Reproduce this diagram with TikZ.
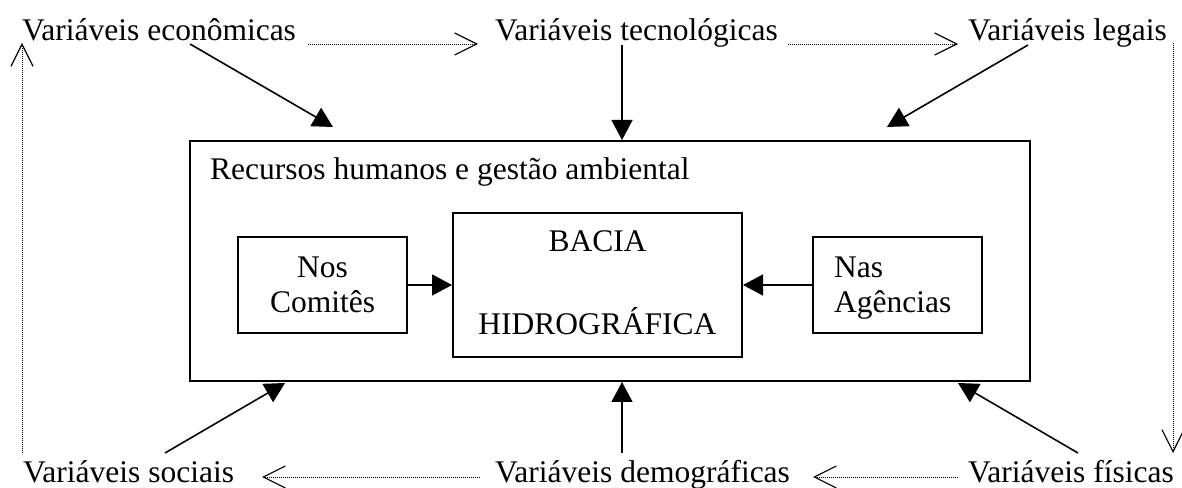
\documentclass[tikz,border=0pt]{standalone}
\usepackage{fontspec}
\setmainfont{Liberation Serif}
\usetikzlibrary{arrows.meta}
\begin{document}
\begin{tikzpicture}[x=1pt,y=1pt,
  lbl/.style={inner sep=0pt, font=\fontsize{31.5}{35}\selectfont},
  frame/.style={draw, line width=2pt, inner sep=0pt},
  flow/.style={line width=1.6pt, -{Triangle[length=20pt,width=21pt]}},
  cycle/.style={line width=0.9pt, dash pattern=on 1pt off 1pt, -{Straight Barb[length=22pt,width=22pt,line width=1.2pt]}}
]
\useasboundingbox (0,0) rectangle (1182,487);
% outer variables
\node[lbl, anchor=base west] (econ) at (22,446) {Variáveis econômicas};
\node[lbl, anchor=base west] (tecno) at (495,446) {Variáveis tecnológicas};
\node[lbl, anchor=base west] (legais) at (968,446) {Variáveis legais};
\node[lbl, anchor=base west] (sociais) at (23,5) {Variáveis sociais};
\node[lbl, anchor=base west] (demo) at (495,5) {Variáveis demográficas};
\node[lbl, anchor=base west] (fisicas) at (968,5) {Variáveis físicas};
% boxes
\node[frame, minimum width=840, minimum height=240] (big) at (610,226) {};
\node[lbl, anchor=base west] (rec) at (210,307) {Recursos humanos e gestão ambiental};
\node[frame, minimum width=169, minimum height=96] (com) at (322.5,202) {};
\node[frame, minimum width=289, minimum height=144] (bacia) at (597.5,202) {};
\node[frame, minimum width=169, minimum height=96] (ag) at (897.5,202) {};
\node[lbl, anchor=base] (nos) at (322.5,209) {Nos};
\node[lbl, anchor=base] (comites) at (322.5,174) {Comitês};
\node[lbl, anchor=base] (baciat) at (597.5,235) {BACIA};
\node[lbl, anchor=base] (hidro) at (597.5,152) {HIDROGRÁFICA};
\node[lbl, anchor=base west] (nas) at (834,209) {Nas};
\node[lbl, anchor=base west] (agt) at (834,174) {Agências};
% inner arrows
\draw[flow] (com.east) -- (bacia.west);
\draw[flow] (ag.west) -- (bacia.east);
% influence arrows
\coordinate (e1) at (190,443);
\coordinate (e2) at (333,360);
\coordinate (t1) at (622,442);
\coordinate (l1) at (1028,442);
\coordinate (l2) at (887,360);
\coordinate (s1) at (165,34);
\coordinate (s2) at (285,104);
\coordinate (d1) at (622,34);
\coordinate (f1) at (1078,34);
\coordinate (f2) at (958,104);
\draw[flow] (e1) -- (e2);
\draw[flow] (t1) -- (t1 |- big.north);
\draw[flow] (l1) -- (l2);
\draw[flow] (s1) -- (s2);
\draw[flow] (d1) -- (d1 |- big.south);
\draw[flow] (f1) -- (f2);
% dotted cycle
\coordinate (c1) at (308,443);
\coordinate (c2) at (478,443);
\coordinate (c3) at (788,443);
\coordinate (c4) at (958,443);
\coordinate (c5) at (1173,444);
\coordinate (c6) at (1173,34);
\coordinate (c7) at (958,10);
\coordinate (c8) at (813,10);
\coordinate (c9) at (480,10);
\coordinate (c10) at (262,10);
\coordinate (c11) at (22,34);
\coordinate (c12) at (22,444);
\draw[cycle] (c1) -- (c2);
\draw[cycle] (c3) -- (c4);
\draw[cycle] (c5) -- (c6);
\draw[cycle] (c7) -- (c8);
\draw[cycle] (c9) -- (c10);
\draw[cycle] (c11) -- (c12);
\end{tikzpicture}
\end{document}
